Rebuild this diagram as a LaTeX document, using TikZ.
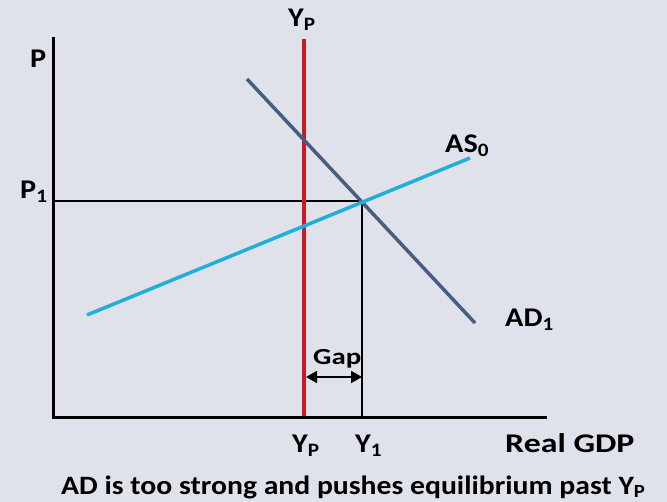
\documentclass[tikz,border=0pt]{standalone}
\usepackage{fontspec}
\setmainfont{Carlito}[FakeStretch=1.12]
\usetikzlibrary{arrows.meta}
\definecolor{bgc}{RGB}{223,226,235}
\definecolor{ypred}{RGB}{200,28,36}
\definecolor{adcol}{RGB}{72,94,126}
\definecolor{ascol}{RGB}{32,174,218}
\newcommand\hstretch[2]{\scalebox{#1}[1]{#2}}
\tikzset{
  axisline/.style={line width=3pt, line cap=rect},
  guide/.style={line width=1.1pt},
  curve/.style={line width=3.5pt},
  lbl/.style={inner sep=0pt, anchor=base west, font=\fontsize{27}{30}\selectfont\bfseries},
  smalllbl/.style={inner sep=0pt, anchor=base west, font=\fontsize{23}{26}\selectfont\bfseries},
  captionlbl/.style={inner sep=0pt, anchor=base west, font=\fontsize{26.5}{30}\selectfont\bfseries}
}
\begin{document}
\begin{tikzpicture}[x=1pt,y=-1pt]
\fill[bgc] (0,0) rectangle (667,502);
\useasboundingbox (0,0) rectangle (667,502);
% coordinates
\coordinate (O) at (53,418);
\coordinate (Ytop) at (53,39);
\coordinate (Xend) at (545,418);
\coordinate (YPt) at (304,39);
\coordinate (YPb) at (304,418);
\coordinate (ADs) at (247,79);
\coordinate (ADe) at (475,323);
\coordinate (ASs) at (87,315);
\coordinate (ASe) at (470,158);
\coordinate (E) at (362,201);
\coordinate (P1a) at (53,201);
\coordinate (Y1b) at (362,418);
\coordinate (GapL) at (306,377);
\coordinate (GapR) at (362,377);
% guides
\draw[guide] (P1a) -- (E);
\draw[guide] (E) -- (Y1b);
% curves
\draw[ypred, line width=3.5pt] (YPt) -- (YPb);
\draw[adcol, curve] (ADs) -- (ADe);
\draw[ascol, curve] (ASs) -- (ASe);
% axes
\draw[axisline] (Ytop) -- (O) -- (Xend);
% gap arrow
\draw[line width=1.8pt, {Triangle[length=11pt,width=12pt]}-{Triangle[length=11pt,width=12pt]}] (GapL) -- (GapR);
% labels
\node[lbl] (lYPtop) at (288,27) {Y\textsubscript{P}};
\node[lbl] (lP) at (30,68) {P};
\node[lbl] (lP1) at (20,199) {P\textsubscript{1}};
\node[lbl] (lAS) at (445,153) {AS\textsubscript{0}};
\node[lbl] (lAD) at (505,327) {AD\textsubscript{1}};
\node[smalllbl] (lGap) at (313,365) {\hstretch{1.12}{Gap}};
\node[lbl] (lYPb) at (292,453) {Y\textsubscript{P}};
\node[lbl] (lY1) at (355,453) {Y\textsubscript{1}};
\node[lbl] (lGDP) at (505,453) {\hstretch{1.12}{Real GDP}};
\node[captionlbl] (lCap) at (61,494) {AD is too strong and pushes equilibrium past Y\textsubscript{P}};
\end{tikzpicture}
\end{document}
